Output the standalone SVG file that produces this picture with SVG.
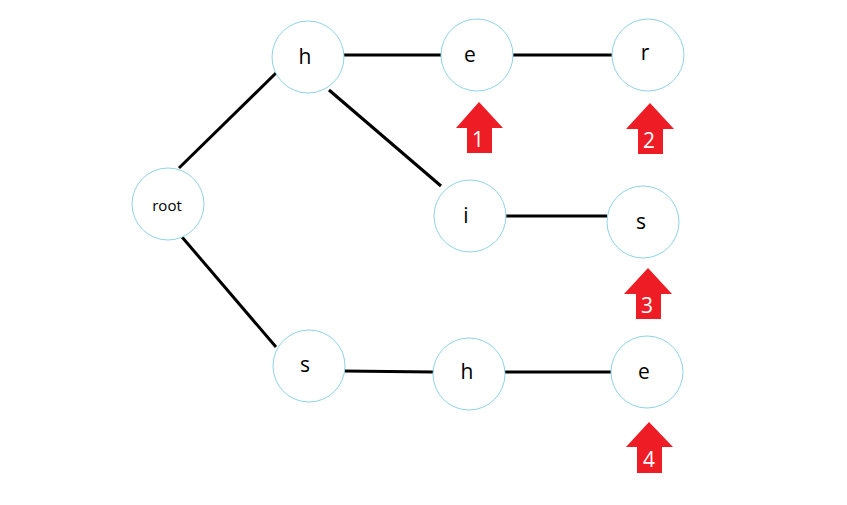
<svg xmlns="http://www.w3.org/2000/svg" width="847" height="505" viewBox="0 0 847 505">
<style>
.n{fill:#fff;stroke:#8fd3e6;stroke-width:1}
.t{font-family:"Open Sans","Liberation Sans",Arial,sans-serif;font-size:21px;fill:#000;text-anchor:middle;dominant-baseline:central}
.c{stroke:#000;stroke-width:3;fill:none}
.a{fill:#ee1c25}
.at{font-family:"Open Sans","Liberation Sans",Arial,sans-serif;font-size:21px;fill:#fff;text-anchor:middle}
</style>
<rect width="847" height="505" fill="#fff"/>
<g id="connectors">
<line class="c" x1="179" y1="168" x2="276" y2="73"/>
<line class="c" x1="182" y1="237" x2="276" y2="347"/>
<line class="c" x1="344" y1="55" x2="441" y2="55"/>
<line class="c" x1="513" y1="55" x2="612" y2="55"/>
<line class="c" x1="329" y1="90" x2="441" y2="186"/>
<line class="c" x1="506" y1="216" x2="607" y2="216"/>
<line class="c" x1="343" y1="371" x2="434" y2="372"/>
<line class="c" x1="505" y1="372" x2="611" y2="372"/>
</g>
<g id="root"><circle class="n" cx="168" cy="204" r="36"/><text class="t" x="167" y="205" style="font-size:15px">root</text></g>
<g id="h1"><circle class="n" cx="308" cy="57" r="36"/><text class="t" x="305" y="56">h</text></g>
<g id="e1"><circle class="n" cx="477" cy="55" r="36"/><text class="t" x="470" y="54">e</text></g>
<g id="r1"><circle class="n" cx="648" cy="55" r="36"/><text class="t" x="645" y="52">r</text></g>
<g id="i1"><circle class="n" cx="470" cy="216" r="36"/><text class="t" x="466" y="215">i</text></g>
<g id="s1"><circle class="n" cx="643" cy="222" r="36"/><text class="t" x="641" y="221">s</text></g>
<g id="s2"><circle class="n" cx="309" cy="366" r="36"/><text class="t" x="305" y="364">s</text></g>
<g id="h2"><circle class="n" cx="469" cy="374" r="36"/><text class="t" x="467" y="371">h</text></g>
<g id="e2"><circle class="n" cx="647" cy="372" r="36"/><text class="t" x="644" y="371">e</text></g>
<g id="arrow1"><polygon class="a" points="479,102 503,128 492,128 492,153 467,153 467,128 456,128"/><text class="at" x="478" y="147">1</text></g>
<g id="arrow2"><polygon class="a" points="650,103 674,129 663,129 663,154 638,154 638,129 626,129"/><text class="at" x="649" y="148">2</text></g>
<g id="arrow3"><polygon class="a" points="648,268 672,294 661,294 661,319 636,319 636,294 624,294"/><text class="at" x="647" y="313">3</text></g>
<g id="arrow4"><polygon class="a" points="649,422 673,447 662,447 662,473 637,473 637,447 626,447"/><text class="at" x="649" y="467">4</text></g>
</svg>
